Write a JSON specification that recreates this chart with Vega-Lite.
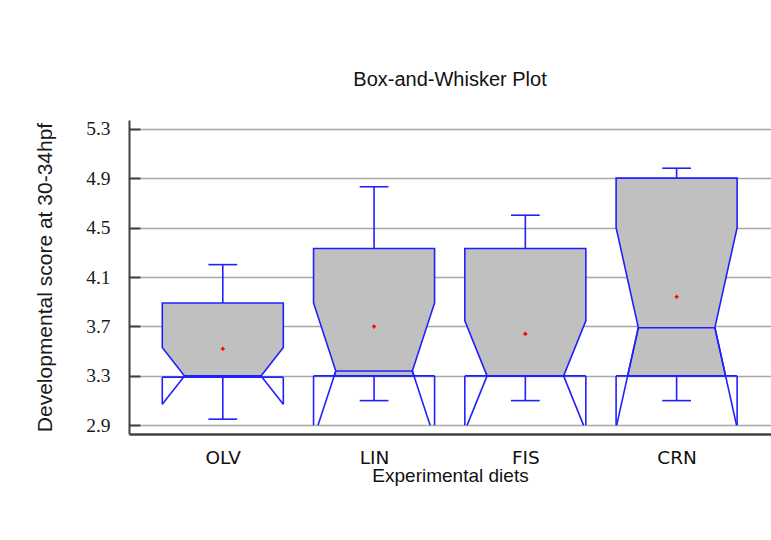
{
  "$schema": "https://vega.github.io/schema/vega-lite/v6.json",
  "width": 642,
  "height": 314,
  "autosize": {"type": "none"},
  "padding": {"left": 129, "top": 120, "right": 0, "bottom": 106},
  "background": "white",
  "title": {
    "text": "Box-and-Whisker Plot",
    "frame": "group",
    "anchor": "middle",
    "font": "Liberation Sans",
    "fontSize": 20,
    "fontWeight": "normal",
    "color": "#111111",
    "offset": 29
  },
  "data": {
    "values": [
      {"diet": "OLV", "lo": 2.95, "q1": 3.29, "med": 3.3, "q3": 3.89, "hi": 4.2, "notchLo": 3.07, "notchHi": 3.53, "mean": 3.52},
      {"diet": "LIN", "lo": 3.1, "q1": 3.3, "med": 3.34, "q3": 4.33, "hi": 4.83, "notchLo": 2.79, "notchHi": 3.89, "mean": 3.7},
      {"diet": "FIS", "lo": 3.1, "q1": 3.3, "med": 3.3, "q3": 4.33, "hi": 4.6, "notchLo": 2.855, "notchHi": 3.745, "mean": 3.64},
      {"diet": "CRN", "lo": 3.1, "q1": 3.3, "med": 3.69, "q3": 4.9, "hi": 4.98, "notchLo": 2.88, "notchHi": 4.5, "mean": 3.94}
    ]
  },
  "transform": [
    {"calculate": "indexof(['OLV', 'LIN', 'FIS', 'CRN'], datum.diet) + 1", "as": "pos"},
    {"calculate": "max(datum.notchLo, 2.9)", "as": "earEnd"},
    {"calculate": "0.253 + (0.4 - 0.253) * (datum.med - datum.earEnd) / (datum.med - datum.notchLo)", "as": "earHalf"},
    {"calculate": "datum.q1 >= datum.med ? 0.253 : 0.253 + (0.4 - 0.253) * (datum.med - datum.q1) / (datum.med - datum.notchLo)", "as": "q1Half"}
  ],
  "encoding": {
    "x": {
      "field": "xa",
      "type": "quantitative",
      "scale": {"domain": [0.38, 4.624], "nice": false, "zero": false},
      "axis": {
        "title": "Experimental diets",
        "values": [1, 2, 3, 4],
        "labelExpr": "['OLV', 'LIN', 'FIS', 'CRN'][datum.value - 1]",
        "grid": false,
        "ticks": false,
        "tickSize": 0,
        "domainColor": "#404040",
        "domainWidth": 2.5,
        "labelFont": "DejaVu Sans",
        "labelFontSize": 18.5,
        "labelColor": "#111111",
        "labelPadding": 14,
        "titleFont": "Liberation Sans",
        "titleFontSize": 19,
        "titleFontWeight": "normal",
        "titleColor": "#111111",
        "titlePadding": 0
      }
    },
    "y": {
      "field": "ya",
      "type": "quantitative",
      "scale": {"domain": [2.83, 5.37], "nice": false, "zero": false},
      "axis": {
        "title": "Developmental score at 30-34hpf",
        "values": [2.9, 3.3, 3.7, 4.1, 4.5, 4.9, 5.3],
        "format": ".1f",
        "grid": true,
        "gridColor": "#a8a8a8",
        "gridWidth": 1.5,
        "domainColor": "#404040",
        "domainWidth": 2,
        "tickColor": "#404040",
        "tickWidth": 2,
        "tickSize": -11,
        "labelPadding": 30,
        "labelFont": "Liberation Sans Narrow",
        "labelFontSize": 19.5,
        "labelColor": "#1a1a1a",
        "titleFont": "Liberation Sans",
        "titleFontSize": 21,
        "titleFontWeight": "normal",
        "titleColor": "#1a1a1a",
        "titlePadding": 30
      }
    }
  },
  "layer": [
    {
      "transform": [
        {"fold": ["q1", "med", "notchHi", "q3"], "as": ["level", "ya"]},
        {"calculate": "datum.level === 'med' ? 0.253 : datum.level === 'q1' ? datum.q1Half : 0.4", "as": "half"},
        {"calculate": "datum.pos - datum.half", "as": "xa"},
        {"calculate": "datum.pos + datum.half", "as": "xb"}
      ],
      "mark": {"type": "area", "orient": "horizontal", "fill": "#c0c0c0", "fillOpacity": 1, "stroke": "#2020ff", "strokeWidth": 1.6},
      "encoding": {
        "x2": {"field": "xb"},
        "detail": {"field": "diet"}
      }
    },
    {
      "transform": [
        {"calculate": "[{xa: datum.pos - 0.253, xb: datum.pos + 0.253, ya: datum.med, yb: datum.med}, {xa: datum.pos, xb: datum.pos, ya: datum.q3, yb: datum.hi}, {xa: datum.pos - 0.095, xb: datum.pos + 0.095, ya: datum.hi, yb: datum.hi}, {xa: datum.pos, xb: datum.pos, ya: datum.q1, yb: datum.lo}, {xa: datum.pos - 0.095, xb: datum.pos + 0.095, ya: datum.lo, yb: datum.lo}, {xa: datum.pos - 0.4, xb: datum.pos + 0.4, ya: datum.q1, yb: datum.q1}, {xa: datum.pos - 0.4, xb: datum.pos - 0.4, ya: datum.q1, yb: datum.earEnd}, {xa: datum.pos + 0.4, xb: datum.pos + 0.4, ya: datum.q1, yb: datum.earEnd}, {xa: datum.pos - 0.253, xb: datum.pos - datum.earHalf, ya: datum.med, yb: datum.earEnd}, {xa: datum.pos + 0.253, xb: datum.pos + datum.earHalf, ya: datum.med, yb: datum.earEnd}]", "as": "seg"},
        {"flatten": ["seg"]},
        {"calculate": "datum.seg.xa", "as": "xa"},
        {"calculate": "datum.seg.xb", "as": "xb"},
        {"calculate": "datum.seg.ya", "as": "ya"},
        {"calculate": "datum.seg.yb", "as": "yb"}
      ],
      "mark": {"type": "rule", "color": "#2020ff", "strokeWidth": 1.6},
      "encoding": {
        "x2": {"field": "xb"},
        "y2": {"field": "yb"}
      }
    },
    {
      "transform": [
        {"calculate": "datum.pos", "as": "xa"},
        {"calculate": "datum.mean", "as": "ya"}
      ],
      "mark": {"type": "point", "shape": "cross", "filled": true, "color": "#ff0000", "size": 16, "opacity": 1}
    }
  ],
  "config": {
    "view": {"stroke": null}
  }
}
